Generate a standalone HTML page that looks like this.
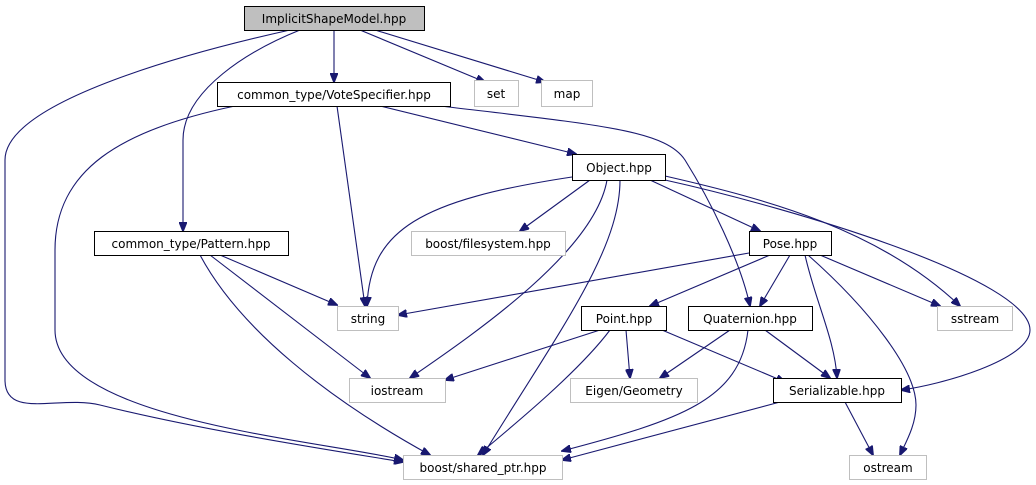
<!DOCTYPE html>
<html><head><meta charset="utf-8"><style>
html,body{margin:0;padding:0;background:#fff;width:1036px;height:485px;overflow:hidden}
text{font-family:"DejaVu Sans","Liberation Sans",sans-serif;font-size:12px;fill:#000}
</style></head><body>
<svg width="1036" height="485" viewBox="0 0 1036 485" xmlns="http://www.w3.org/2000/svg">
<defs><marker id="a" markerWidth="10" markerHeight="8" refX="9" refY="4" orient="auto" markerUnits="userSpaceOnUse"><path d="M0,0 L10,4 L0,8 z" fill="#191970" stroke="#191970"/></marker></defs>
<g fill="none" stroke="#191970" stroke-width="1.1" marker-end="url(#a)">
<path d="M290,30 C200,50 5,100 5,160 L5,380 C5,420 60,395 100,405 C200,430 330,450 403,462"/>
<path d="M300,30 C250,50 183,90 183,140 L183,231"/>
<path d="M334,30 L334,82"/>
<path d="M360,30 L485,82"/>
<path d="M375,30 L545,82"/>
<path d="M235,106 C120,130 55,170 55,250 L55,330 C55,420 320,440 403,460"/>
<path d="M337,106 L365,306"/>
<path d="M380,106 L576,154"/>
<path d="M440,106 C600,125 665,130 685,160 C710,200 740,260 750,306"/>
<path d="M572,177 C420,200 370,230 367,306"/>
<path d="M590,180 L520,231"/>
<path d="M607,180 C595,250 480,330 410,378"/>
<path d="M620,180 C620,250 560,330 483,455"/>
<path d="M650,180 L760,231"/>
<path d="M665,176 C770,200 880,230 960,306"/>
<path d="M665,180 C800,210 1030,280 1030,330 C1030,360 940,385 901,390"/>
<path d="M220,255 L337,305"/>
<path d="M210,255 L370,378"/>
<path d="M200,255 C240,330 330,400 430,455"/>
<path d="M749,253 L398,315"/>
<path d="M770,255 L650,306"/>
<path d="M790,255 L760,306"/>
<path d="M820,255 L940,306"/>
<path d="M805,255 C815,300 835,340 837,378"/>
<path d="M808,255 C870,310 916,370 916,405 C916,425 906,442 900,455"/>
<path d="M600,330 L445,380"/>
<path d="M626,330 L630,378"/>
<path d="M662,330 L785,382"/>
<path d="M610,330 C580,370 520,420 478,455"/>
<path d="M730,330 L660,378"/>
<path d="M765,330 L830,378"/>
<path d="M748,330 C740,400 680,420 562,451"/>
<path d="M780,402 L562,460"/>
<path d="M845,402 L873,455"/>
</g>
<g stroke-width="1">
<rect x="244.5" y="6.5" width="180" height="24" fill="#bfbfbf" stroke="#000"/>
<rect x="217.5" y="82.5" width="233" height="24" fill="#fff" stroke="#000"/>
<rect x="474.5" y="80.5" width="44" height="26" fill="#fff" stroke="#bfbfbf"/>
<rect x="541.5" y="80.5" width="51" height="26" fill="#fff" stroke="#bfbfbf"/>
<rect x="572.5" y="154.5" width="93" height="26" fill="#fff" stroke="#000"/>
<rect x="94.5" y="231.5" width="194" height="24" fill="#fff" stroke="#000"/>
<rect x="411.5" y="231.5" width="154" height="24" fill="#fff" stroke="#bfbfbf"/>
<rect x="749.5" y="231.5" width="82" height="24" fill="#fff" stroke="#000"/>
<rect x="337.5" y="306.5" width="61" height="24" fill="#fff" stroke="#bfbfbf"/>
<rect x="937.5" y="306.5" width="75" height="24" fill="#fff" stroke="#bfbfbf"/>
<rect x="581.5" y="306.5" width="85" height="24" fill="#fff" stroke="#000"/>
<rect x="688.5" y="306.5" width="124" height="24" fill="#fff" stroke="#000"/>
<rect x="349.5" y="378.5" width="96" height="24" fill="#fff" stroke="#bfbfbf"/>
<rect x="570.5" y="378.5" width="127" height="24" fill="#fff" stroke="#bfbfbf"/>
<rect x="773.5" y="378.5" width="128" height="24" fill="#fff" stroke="#000"/>
<rect x="403.5" y="455.5" width="159" height="24" fill="#fff" stroke="#bfbfbf"/>
<rect x="849.5" y="455.5" width="77" height="24" fill="#fff" stroke="#bfbfbf"/>
</g>
<g text-anchor="middle">
<text x="334" y="23">ImplicitShapeModel.hpp</text>
<text x="334" y="99">common_type/VoteSpecifier.hpp</text>
<text x="496" y="98">set</text>
<text x="567" y="98">map</text>
<text x="619" y="172">Object.hpp</text>
<text x="191" y="248">common_type/Pattern.hpp</text>
<text x="488" y="248">boost/filesystem.hpp</text>
<text x="790" y="248">Pose.hpp</text>
<text x="368" y="323">string</text>
<text x="975" y="323">sstream</text>
<text x="624" y="323">Point.hpp</text>
<text x="750" y="323">Quaternion.hpp</text>
<text x="397" y="395">iostream</text>
<text x="634" y="395">Eigen/Geometry</text>
<text x="837" y="395">Serializable.hpp</text>
<text x="483" y="472">boost/shared_ptr.hpp</text>
<text x="888" y="472">ostream</text>
</g>
</svg>
</body></html>
